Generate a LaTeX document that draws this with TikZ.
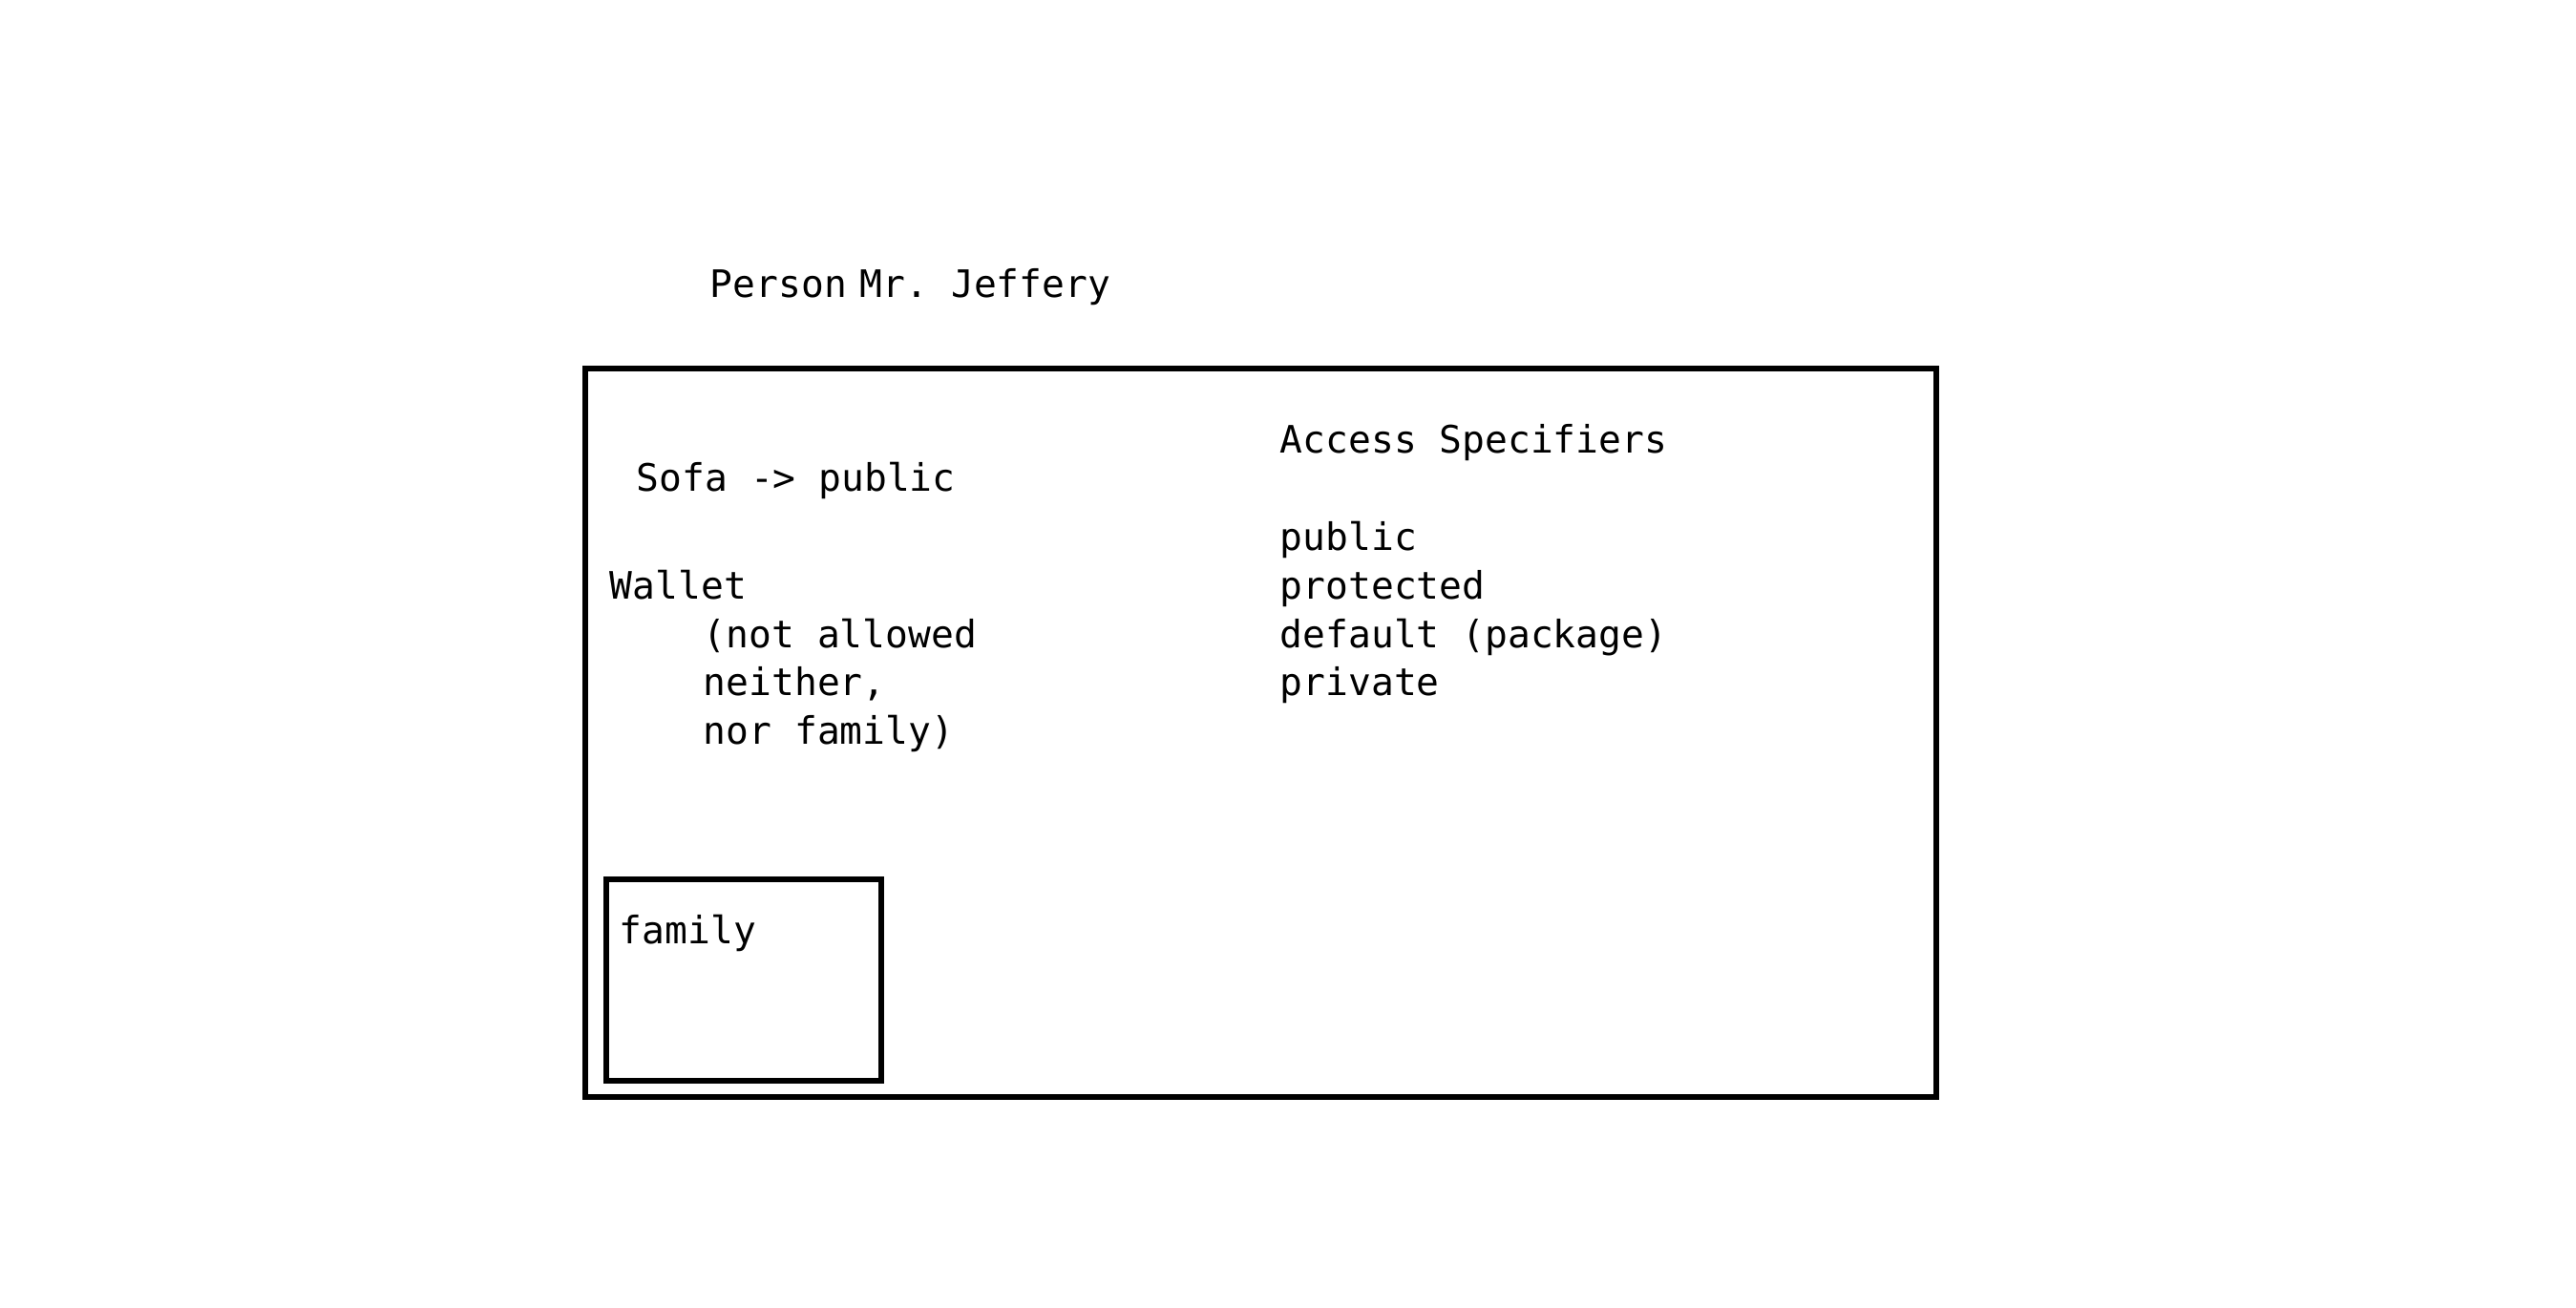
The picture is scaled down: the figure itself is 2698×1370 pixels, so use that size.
\documentclass[tikz,border=0pt]{standalone}
\usepackage{fontspec}
\setmonofont{DejaVu Sans Mono}
\usepackage{tikz}

\tikzset{
  txt/.style={anchor=base west, inner sep=0pt, font=\ttfamily\fontsize{9.9pt}{12pt}\selectfont},
  frame/.style={draw, line width=1.3pt}
}

\begin{document}
\begin{tikzpicture}[x=0.25pt, y=-0.25pt]
                    \useasboundingbox (0,0) rectangle (2698,1370);

                    % TITLE
                    \node[txt] (person) at (743,311) {Person};
                    \node[txt] (name) at (900,311) {Mr. Jeffery};

                    % OUTER BOX
                    \draw[frame] (613,386) rectangle (2028,1149);

                    % LEFT SIDE
                    \node[txt] (sofa) at (666,514) {Sofa -> public};
                    \node[txt] (wallet) at (638,627) {Wallet};
                    \node[txt] (note1) at (736,678) {(not allowed};
                    \node[txt] (note2) at (736,728) {neither,};
                    \node[txt] (note3) at (736,779) {nor family)};

                    % FAMILY BOX
                    \draw[frame] (635,921) rectangle (923,1132);
                    \node[txt] (family) at (648,988) {family};

                    % ACCESS SPECIFIERS
                    \node[txt] (access) at (1340,474) {Access Specifiers};
                    \node[txt] (public) at (1340,576) {public};
                    \node[txt] (protected) at (1340,627) {protected};
                    \node[txt] (default) at (1340,678) {default (package)};
                    \node[txt] (private) at (1340,728) {private};
\end{tikzpicture}
\end{document}
